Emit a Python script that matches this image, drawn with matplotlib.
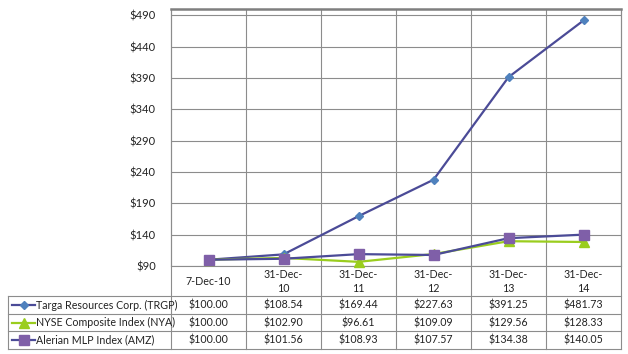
import matplotlib
matplotlib.use("Agg")
import matplotlib.pyplot as plt
from matplotlib.lines import Line2D

plt.rcParams['font.family'] = ['Lato', 'DejaVu Sans']

categories = ["7-Dec-10", "31-Dec-\n10", "31-Dec-\n11", "31-Dec-\n12", "31-Dec-\n13", "31-Dec-\n14"]
series_names = ["Targa Resources Corp. (TRGP)", "NYSE Composite Index (NYA)", "Alerian MLP Index (AMZ)"]
targa = [100.00, 108.54, 169.44, 227.63, 391.25, 481.73]
nyse = [100.00, 102.90, 96.61, 109.09, 129.56, 128.33]
alerian = [100.00, 101.56, 108.93, 107.57, 134.38, 140.05]
yticks = [90, 140, 190, 240, 290, 340, 390, 440, 490]

series = [targa, nyse, alerian]
styles = [
    dict(color="#4B4B97", marker="D", markersize=4.5, mfc="#4F81BD", mec="#4F81BD"),
    dict(color="#9ACD1E", marker="^", markersize=6.5, mfc="#9ACD1E", mec="#9ACD1E"),
    dict(color="#4B4B97", marker="s", markersize=6.5, mfc="#7F5FA8", mec="#7F5FA8"),
]

FS = 7.7
W, H = 628, 354
fig = plt.figure(figsize=(W / 100, H / 100), dpi=100)
ax_l, ax_r, ax_t, ax_b = 171, 621, 9, 266
ax = fig.add_axes([ax_l / W, 1 - ax_b / H, (ax_r - ax_l) / W, (ax_b - ax_t) / H])

x = list(range(len(categories)))
grid_c = "#8C8C8C"
for vals, st in zip(series, styles):
    ax.plot(x, vals, linewidth=1.6, zorder=3, clip_on=False, **st)

ax.set_xlim(-0.5, len(categories) - 0.5)
ax.set_ylim(90, 500)
ax.set_yticks(yticks)
ax.set_yticklabels([f"${v}" for v in yticks], fontsize=FS + 0.3, color="#222222")
ax.tick_params(axis="y", length=0, pad=11)
ax.set_xticks([])
for y in yticks:
    ax.axhline(y, color=grid_c, linewidth=0.8, zorder=1)
for s in ["left", "right", "bottom"]:
    ax.spines[s].set_color(grid_c)
    ax.spines[s].set_linewidth(0.8)
ax.spines["top"].set_color("#7F7F7F")
ax.spines["top"].set_linewidth(1.8)

axh = ax_b - ax_t
axw = ax_r - ax_l
def yf(p):
    return (ax_b - p) / axh
def xf(p):
    return (p - ax_l) / axw

# vertical lines through chart and table
bottom_y = yf(349)
for b in range(len(categories) + 1):
    xb = xf(ax_l + b * axw / len(categories))
    ax.add_line(Line2D([xb, xb], [bottom_y, 1], transform=ax.transAxes, color=grid_c,
                       linewidth=0.8, clip_on=False, zorder=1))
# horizontal table lines
row_edges = [296, 314, 331, 349]
for p in row_edges:
    ax.add_line(Line2D([xf(8), 1], [yf(p), yf(p)], transform=ax.transAxes, color=grid_c,
                       linewidth=0.8, clip_on=False))
ax.add_line(Line2D([xf(8), xf(8)], [yf(349), yf(296)], transform=ax.transAxes, color=grid_c,
                   linewidth=0.8, clip_on=False))

tc = "#222222"
# category labels
for i, c in enumerate(categories):
    ax.text(i, yf(281.5), c, transform=ax.get_xaxis_transform(), ha="center", va="center",
            fontsize=FS, color=tc, linespacing=1.35)

# data rows
for r, (name, vals, st) in enumerate(zip(series_names, series, styles)):
    yc = yf((row_edges[r] + row_edges[r + 1]) / 2)
    for i, v in enumerate(vals):
        ax.text(i, yc, f"${v:,.2f}", transform=ax.get_xaxis_transform(), ha="center",
                va="center", fontsize=FS, color=tc)
    ax.add_line(Line2D([xf(12), xf(35)], [yc, yc], transform=ax.transAxes, color=st["color"],
                       linewidth=1.6, clip_on=False))
    ax.add_line(Line2D([xf(23.5)], [yc], transform=ax.transAxes, marker=st["marker"],
                       markersize=st["markersize"], mfc=st["mfc"], mec=st["mec"],
                       linestyle="none", clip_on=False))
    ax.text(xf(36), yc, name, transform=ax.transAxes, ha="left", va="center",
            fontsize=FS, color=tc)

fig.savefig("out.png", dpi=100)
